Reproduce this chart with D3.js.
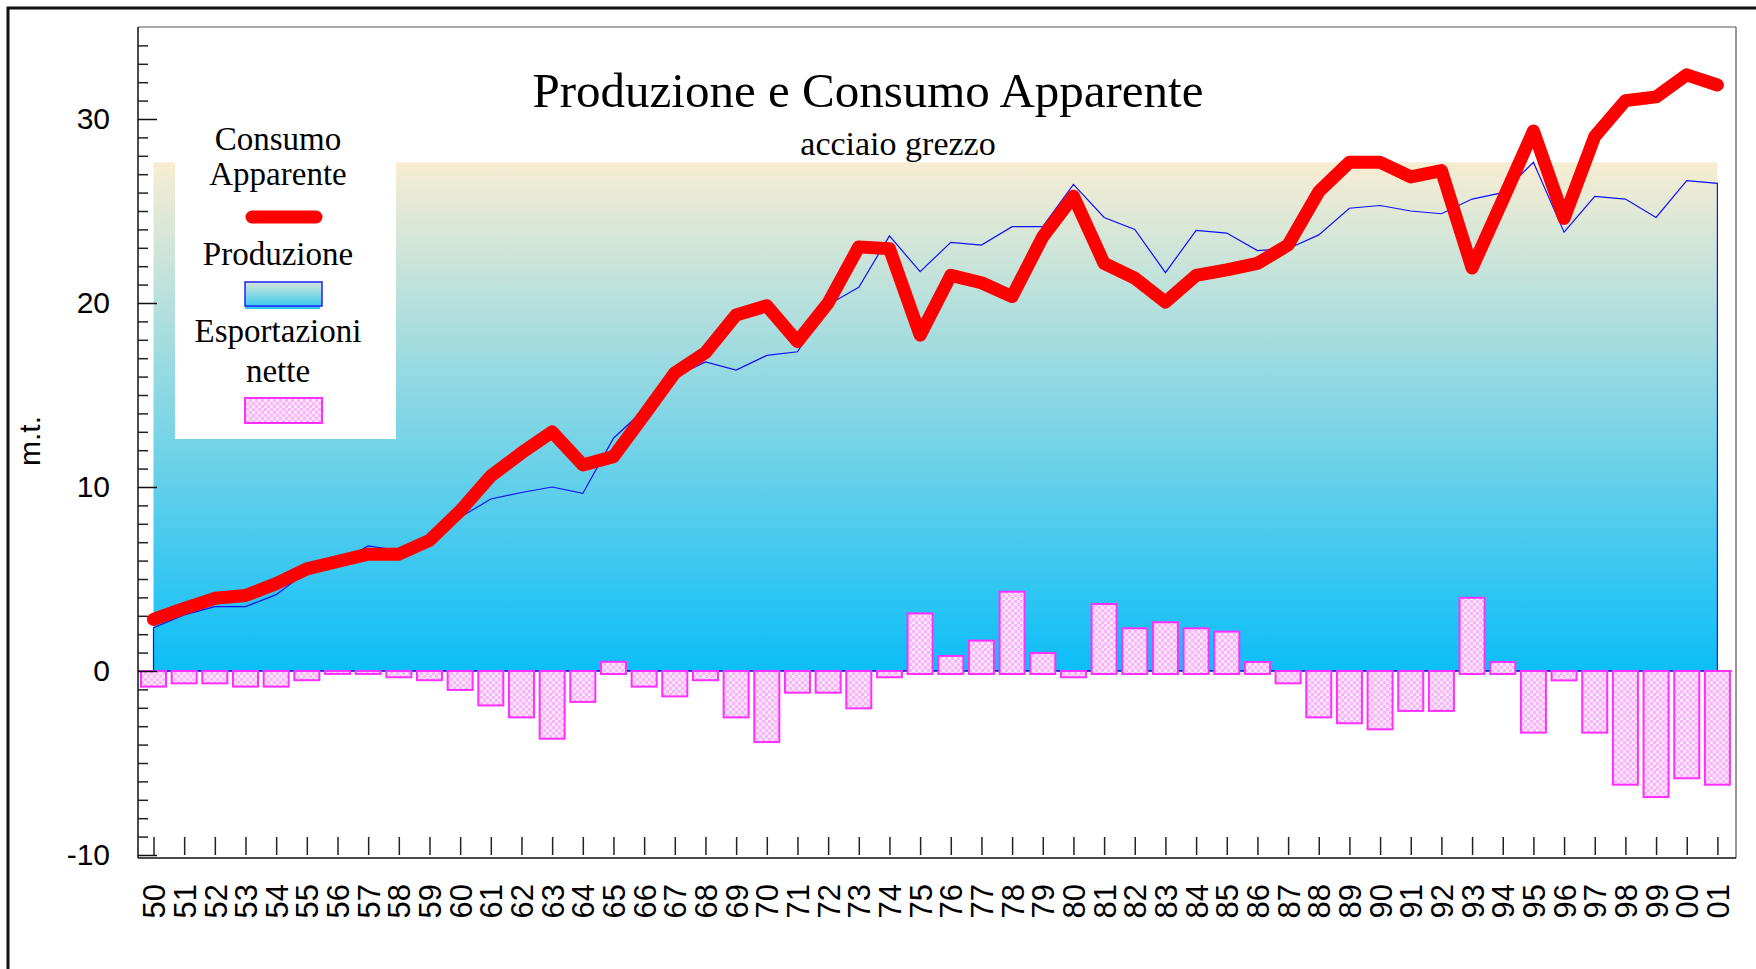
<!DOCTYPE html>
<html>
<head>
<meta charset="utf-8">
<style>
  body { margin: 0; background: #fff; }
  svg { display: block; }
</style>
</head>
<body>
<svg id="chart" width="1756" height="969"></svg>
<script src="https://cdn.jsdelivr.net/npm/d3@7/dist/d3.min.js"></script>
<script>
// anni (etichette asse x)
const years = ['50','51','52','53','54','55','56','57','58','59',
  '60','61','62','63','64','65','66','67','68','69',
  '70','71','72','73','74','75','76','77','78','79',
  '80','81','82','83','84','85','86','87','88','89',
  '90','91','92','93','94','95','96','97','98','99','00','01']

// consumo apparente (linea rossa)
const consumo = [2.8, 3.4, 3.95, 4.1, 4.75, 5.55, 5.95, 6.35, 6.35, 7.1,
  8.7, 10.6, 11.85, 13.0, 11.2, 11.65, 13.9, 16.2, 17.3, 19.35,
  19.85, 17.9, 20.0, 23.05, 22.95, 18.25, 21.5, 21.1, 20.35, 23.6,
  25.8, 22.15, 21.35, 20.05, 21.5, 21.8, 22.15, 23.15, 26.05, 27.65,
  27.65, 26.85, 27.2, 21.9, 25.6, 29.35, 24.6, 29.05, 31.0, 31.2, 32.4, 31.85]

// produzione (linea blu)
const produzione = [2.35, 3.05, 3.5, 3.5, 4.15, 5.4, 5.8, 6.8, 6.55, 7.0,
  8.35, 9.35, 9.7, 10.0, 9.65, 12.65, 14.2, 16.0, 16.8, 16.35,
  17.15, 17.35, 19.9, 20.85, 23.65, 21.7, 23.3, 23.15, 24.15, 24.15,
  26.45, 24.65, 24.0, 21.65, 23.95, 23.8, 22.85, 22.95, 23.7, 25.15,
  25.3, 25.0, 24.85, 25.65, 26.0, 27.65, 23.85, 25.8, 25.65, 24.65, 26.65, 26.5]

// esportazioni nette (barre)
const esportazioni = [-0.85, -0.67, -0.67, -0.85, -0.85, -0.5, -0.16, -0.16, -0.34, -0.5,
  -1.03, -1.87, -2.52, -3.68, -1.68, 0.5, -0.85, -1.38, -0.5, -2.52,
  -3.86, -1.18, -1.18, -2.03, -0.34, 3.13, 0.82, 1.65, 4.31, 0.98,
  -0.34, 3.64, 2.32, 2.65, 2.32, 2.14, 0.49, -0.67, -2.52, -2.84,
  -3.17, -2.17, -2.17, 3.98, 0.49, -3.35, -0.51, -3.35, -6.18, -6.85, -5.83, -6.18]

const yMajor = [-10, 0, 10, 20, 30]

const sans = '"Liberation Sans", Arial, sans-serif'
const serif = '"Liberation Serif", "Times New Roman", serif'

const svg = d3.select('#chart')

const plot = {left: 138, right: 1736, top: 27, bottom: 858}
const x = d3.scalePoint().domain(years).range([153.5, 1717.4])
const y = d3.scaleLinear().domain([-10, 35]).range([855, 27])

const defs = svg.append('defs')
const grad = defs.append('linearGradient').attr('id', 'bg')
  .attr('x1', 0).attr('y1', 0).attr('x2', 0).attr('y2', 1)
grad.append('stop').attr('offset', 0).attr('stop-color', '#f8edd2')
grad.append('stop').attr('offset', 1).attr('stop-color', '#0bbef8')

const grad2 = defs.append('linearGradient').attr('id', 'sw')
  .attr('x1', 0).attr('y1', 0).attr('x2', 0).attr('y2', 1)
grad2.append('stop').attr('offset', 0).attr('stop-color', '#d6e6d6')
grad2.append('stop').attr('offset', 1).attr('stop-color', '#3ccbf0')

const pat = defs.append('pattern').attr('id', 'dots')
  .attr('width', 6).attr('height', 6).attr('patternUnits', 'userSpaceOnUse')
pat.append('rect').attr('width', 6).attr('height', 6).attr('fill', '#ffe4ff')
pat.append('rect').attr('width', 3).attr('height', 3).attr('fill', '#f8b6f8')
pat.append('rect').attr('x', 3).attr('y', 3).attr('width', 3).attr('height', 3).attr('fill', '#f8b6f8')

// cornice esterna
svg.append('rect').attr('x', 8).attr('y', 8).attr('width', 1800).attr('height', 1000)
  .attr('fill', 'none').attr('stroke', '#111').attr('stroke-width', 3)

// sfondo a gradiente (rettangolo della produzione)
const pMax = d3.max(produzione)
svg.append('rect')
  .attr('x', x(years[0])).attr('y', y(pMax))
  .attr('width', x(years[years.length - 1]) - x(years[0]))
  .attr('height', y(0) - y(pMax))
  .attr('fill', 'url(#bg)')

// riquadro del grafico
svg.append('line').attr('x1', plot.left).attr('x2', plot.right).attr('y1', plot.top).attr('y2', plot.top)
  .attr('stroke', '#555').attr('stroke-width', 1)
svg.append('line').attr('x1', plot.right).attr('x2', plot.right).attr('y1', plot.top).attr('y2', plot.bottom)
  .attr('stroke', '#777').attr('stroke-width', 1.5)
svg.append('line').attr('x1', plot.left).attr('x2', plot.right).attr('y1', plot.bottom).attr('y2', plot.bottom)
  .attr('stroke', '#111').attr('stroke-width', 1.5)
svg.append('line').attr('x1', plot.left).attr('x2', plot.left).attr('y1', plot.top).attr('y2', plot.bottom)
  .attr('stroke', '#111').attr('stroke-width', 1.5)

// linea dello zero
svg.append('line').attr('x1', plot.left).attr('x2', 1732).attr('y1', y(0)).attr('y2', y(0))
  .attr('stroke', '#000').attr('stroke-width', 1.2)

// contorno della produzione
const area = d3.area().x((d, i) => x(years[i])).y0(y(0)).y1(d => y(d))
svg.append('path').datum(produzione).attr('d', area)
  .attr('fill', 'none').attr('stroke', '#1010ff').attr('stroke-width', 1.2)

// barre esportazioni nette
svg.append('g').selectAll('rect').data(esportazioni).join('rect')
  .attr('x', (d, i) => x(years[i]) - 12.5)
  .attr('width', 25)
  .attr('y', d => d >= 0 ? y(d) : y(0))
  .attr('height', d => d >= 0 ? y(0) - y(d) + 3 : y(d) - y(0))
  .attr('fill', 'url(#dots)')
  .attr('stroke', '#ff30ff').attr('stroke-width', 2)

// consumo apparente
const line = d3.line().x((d, i) => x(years[i])).y(d => y(d))
svg.append('path').datum(consumo).attr('d', line)
  .attr('fill', 'none').attr('stroke', '#ff0000').attr('stroke-width', 13)
  .attr('stroke-linejoin', 'round').attr('stroke-linecap', 'round')

// asse y: tacche minori e maggiori
const minor = d3.range(-10, 35).filter(v => !yMajor.includes(v))
svg.append('g').attr('transform', `translate(${plot.left},0)`)
  .call(d3.axisLeft(y).tickValues(minor).tickSize(-10).tickFormat(''))
  .call(g => g.select('.domain').remove())
  .call(g => g.selectAll('line').attr('stroke', '#222').attr('stroke-width', 1.5))
svg.append('g').attr('transform', `translate(${plot.left},0)`)
  .call(d3.axisLeft(y).tickValues(yMajor).tickSize(-19).tickPadding(28).tickFormat(d => String(d)))
  .call(g => g.select('.domain').remove())
  .call(g => g.selectAll('line').attr('stroke', '#111').attr('stroke-width', 1.5))
  .call(g => g.selectAll('text').attr('font-family', sans).attr('font-size', 30).attr('fill', '#000'))

// asse x
svg.append('g').attr('transform', `translate(0,${y(-10)})`)
  .call(d3.axisBottom(x).tickSize(-18).tickPadding(0))
  .call(g => g.select('.domain').remove())
  .call(g => g.selectAll('line').attr('stroke', '#222').attr('stroke-width', 1.5))
  .call(g => g.selectAll('text')
    .attr('transform', 'rotate(-90)')
    .attr('x', -29).attr('y', 0).attr('dy', '0.36em')
    .attr('text-anchor', 'end')
    .attr('font-family', sans).attr('font-size', 31).attr('fill', '#000'))

// titolo asse y
svg.append('text').attr('transform', 'translate(40,441) rotate(-90)')
  .attr('text-anchor', 'middle').attr('font-family', sans).attr('font-size', 30)
  .text('m.t.')

// titoli
svg.append('text').attr('x', 868).attr('y', 107).attr('text-anchor', 'middle')
  .attr('font-family', serif).attr('font-size', 49).text('Produzione e Consumo Apparente')
svg.append('text').attr('x', 898).attr('y', 155).attr('text-anchor', 'middle')
  .attr('font-family', serif).attr('font-size', 34).text('acciaio grezzo')

// legenda
const lg = svg.append('g')
lg.append('rect').attr('x', 175).attr('y', 110).attr('width', 221).attr('height', 329).attr('fill', '#fff')
const lt = (t, yy) => lg.append('text').attr('x', 278).attr('y', yy).attr('text-anchor', 'middle')
  .attr('font-family', serif).attr('font-size', 33).text(t)
lt('Consumo', 150)
lt('Apparente', 185)
lg.append('line').attr('x1', 252).attr('x2', 316).attr('y1', 217).attr('y2', 217)
  .attr('stroke', '#ff0000').attr('stroke-width', 13).attr('stroke-linecap', 'round')
lt('Produzione', 265)
lg.append('rect').attr('x', 245).attr('y', 306).attr('width', 75).attr('height', 3).attr('fill', '#30c8f0')
lg.append('rect').attr('x', 245).attr('y', 282).attr('width', 77).attr('height', 24)
  .attr('fill', 'url(#sw)').attr('stroke', '#2020ff').attr('stroke-width', 1.5)
lt('Esportazioni', 342)
lt('nette', 382)
lg.append('rect').attr('x', 245).attr('y', 398).attr('width', 77).attr('height', 25)
  .attr('fill', 'url(#dots)').attr('stroke', '#ff30ff').attr('stroke-width', 2)
</script>
</body>
</html>
